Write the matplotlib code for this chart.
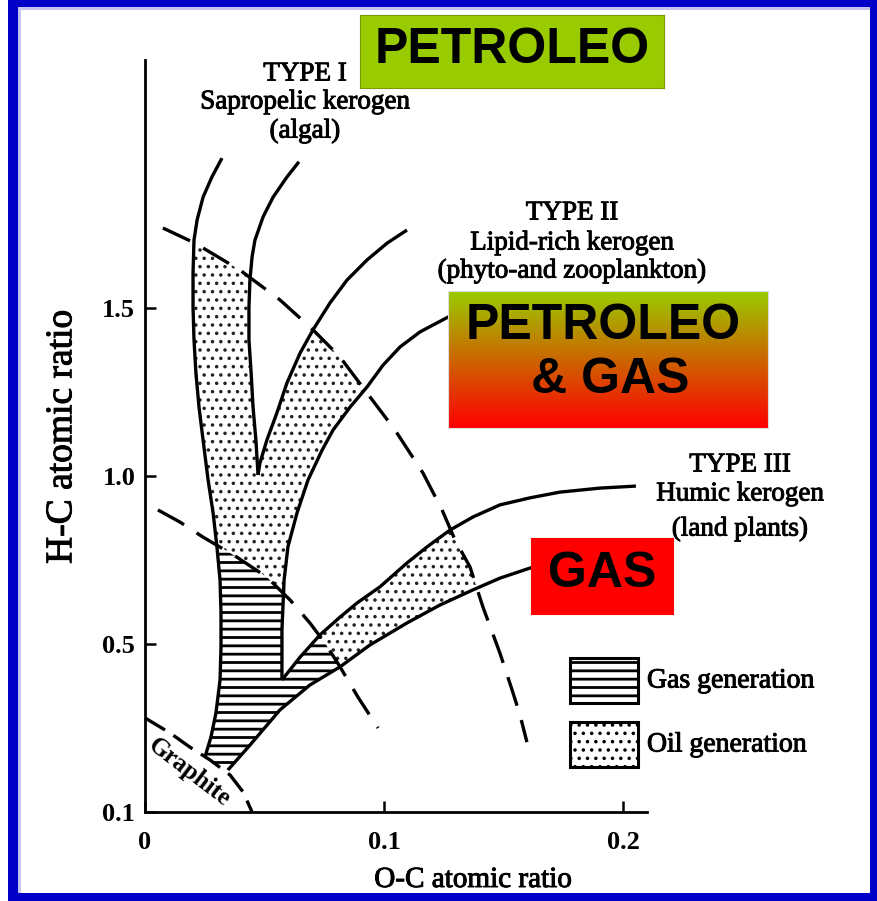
import numpy as np
import matplotlib.pyplot as plt
import matplotlib.patheffects as pe
from matplotlib.patches import Polygon, Rectangle

W, H = 877, 901
plt.rcParams['font.family'] = 'Liberation Serif'

# kerogen evolution paths as (O/C, H/C)
type1_outer_oc = [0.0322, 0.0280, 0.0243, 0.0218, 0.0205, 0.0201, 0.0201, 0.0205, 0.0213, 0.0226, 0.0243,
                  0.0264, 0.0285, 0.0301, 0.0314, 0.0318, 0.0318, 0.0314, 0.0297, 0.0276, 0.0251]
type1_outer_hc = [1.946, 1.890, 1.830, 1.762, 1.702, 1.604, 1.503, 1.405, 1.307, 1.205, 1.107,
                  0.988, 0.890, 0.789, 0.690, 0.592, 0.491, 0.393, 0.295, 0.223, 0.164]
type1_inner_oc = [0.0644, 0.0594, 0.0536, 0.0494, 0.0460, 0.0448, 0.0439, 0.0435, 0.0435, 0.0444, 0.0452, 0.0464, 0.0473]
type1_inner_hc = [1.935, 1.890, 1.830, 1.771, 1.702, 1.652, 1.583, 1.503, 1.405, 1.307, 1.205, 1.107, 1.003]
type2_upper_oc = [0.0473, 0.0481, 0.0510, 0.0552, 0.0594, 0.0649, 0.0703, 0.0774, 0.0845, 0.0929, 0.1013, 0.1096]
type2_upper_hc = [1.003, 1.039, 1.107, 1.188, 1.277, 1.366, 1.435, 1.515, 1.583, 1.643, 1.693, 1.732]
type2_lower_oc = [0.1276, 0.1151, 0.1067, 0.0996, 0.0929, 0.0858, 0.0787, 0.0741, 0.0682, 0.0636, 0.0598, 0.0582, 0.0573, 0.0573]
type2_lower_hc = [1.476, 1.429, 1.384, 1.330, 1.265, 1.205, 1.137, 1.077, 0.988, 0.890, 0.789, 0.690, 0.542, 0.393]
type3_upper_oc = [0.0573, 0.0649, 0.0732, 0.0816, 0.0887, 0.0983, 0.1096, 0.1180, 0.1276, 0.1372, 0.1485, 0.1611, 0.1736, 0.1904, 0.2054]
type3_upper_hc = [0.393, 0.461, 0.527, 0.580, 0.622, 0.670, 0.741, 0.789, 0.839, 0.878, 0.914, 0.935, 0.952, 0.964, 0.970]
type3_lower_oc = [0.0347, 0.0439, 0.0565, 0.0690, 0.0816, 0.0941, 0.1096, 0.1234, 0.1372, 0.1485, 0.1611, 0.1736]
type3_lower_hc = [0.125, 0.199, 0.304, 0.378, 0.432, 0.497, 0.5625, 0.616, 0.661, 0.696, 0.726, 0.753]

# maturity boundaries (dashed)
oil_start_oc = [0.0075, 0.0209, 0.0397, 0.0565, 0.0703, 0.0816, 0.0929, 0.1046, 0.1163, 0.1243, 0.1297, 0.1360, 0.1414, 0.1485, 0.1536, 0.1569, 0.1598]
oil_start_hc = [1.738, 1.693, 1.613, 1.524, 1.435, 1.354, 1.247, 1.137, 1.009, 0.899, 0.810, 0.729, 0.610, 0.473, 0.363, 0.289, 0.208]
gas_start_oc = [0.0054, 0.0146, 0.0243, 0.0377, 0.0510, 0.0607, 0.0690, 0.0753, 0.0816, 0.0891, 0.0975]
gas_start_hc = [0.899, 0.863, 0.818, 0.762, 0.699, 0.631, 0.5625, 0.503, 0.432, 0.342, 0.250]
graphite_oc = [0.0, 0.0105, 0.0188, 0.0272, 0.0356, 0.0410, 0.0448]
graphite_hc = [0.280, 0.235, 0.193, 0.155, 0.110, 0.060, 0.0]

xticks = [0, 0.1, 0.2]
xtick_labels = ['0', '0.1', '0.2']
yticks = [0, 0.5, 1.0, 1.5]
ytick_labels = ['0.1', '0.5', '1.0', '1.5']

heavy = [pe.withStroke(linewidth=0.7, foreground='black')]


def fpos(px, py):
    return px / W, 1 - py / H


fig = plt.figure(figsize=(W / 100, H / 100), dpi=100)
fig.patch.set_facecolor('white')

# blue frame of the slide
blue = '#0000c8'
for x0, y0, w, h in [(8, 0, 869, 7), (8, 0, 10, 901), (870, 0, 7, 901), (8, 893, 869, 8)]:
    fig.add_artist(Rectangle(fpos(x0, y0 + h), w / W, h / H, transform=fig.transFigure,
                             facecolor=blue, edgecolor='none', zorder=10))
for x0, y0, w, h in [(18, 7, 852, 3), (18, 7, 3, 886)]:
    fig.add_artist(Rectangle(fpos(x0, y0 + h), w / W, h / H, transform=fig.transFigure,
                             facecolor='#c4c4ee', edgecolor='none', zorder=10))

ax = fig.add_axes([145 / W, 1 - 812 / H, 502 / W, 752 / H])
ax.set_xlim(0, 502 / 2390)
ax.set_ylim(0, 752 / 336)
for s in ['top', 'right']:
    ax.spines[s].set_visible(False)
for s in ['left', 'bottom']:
    ax.spines[s].set_linewidth(2.0)
ax.set_xticks(xticks, xtick_labels)
ax.set_yticks(yticks, ytick_labels)
ax.tick_params(direction='in', length=8, width=1.8)
ax.tick_params(axis='x', pad=14, labelsize=19)
ax.tick_params(axis='y', pad=7, labelsize=19)
for lab in ax.get_xticklabels() + ax.get_yticklabels():
    lab.set_fontweight('bold')

# whole kerogen band as one outline
band_oc = (type1_outer_oc + type3_lower_oc + type3_upper_oc[::-1] + type2_lower_oc[::-1]
           + type2_upper_oc[::-1] + type1_inner_oc[::-1])
band_hc = (type1_outer_hc + type3_lower_hc + type3_upper_hc[::-1] + type2_lower_hc[::-1]
           + type2_upper_hc[::-1] + type1_inner_hc[::-1])
band = np.column_stack([band_oc, band_hc])

oil_zone = np.column_stack([oil_start_oc + gas_start_oc[::-1], oil_start_hc + gas_start_hc[::-1]])
gas_zone = np.column_stack([gas_start_oc + [gas_start_oc[-1], -0.01, -0.01],
                            gas_start_hc + [-0.1, -0.1, gas_start_hc[0]]])

with plt.rc_context({'hatch.linewidth': 1.3}):
    oil_fill = Polygon(band, closed=True, facecolor='white', edgecolor='#222222', lw=0, hatch='..', zorder=1)
with plt.rc_context({'hatch.linewidth': 2.0}):
    gas_fill = Polygon(band, closed=True, facecolor='white', edgecolor='black', lw=0, hatch='--', zorder=1)
ax.add_patch(oil_fill)
ax.add_patch(gas_fill)
oil_fill.set_clip_path(Polygon(oil_zone, closed=True, transform=ax.transData))
gas_fill.set_clip_path(Polygon(gas_zone, closed=True, transform=ax.transData))

solid = dict(color='black', lw=2.4, solid_capstyle='butt', solid_joinstyle='round', clip_on=False, zorder=3)
ax.plot(type1_outer_oc, type1_outer_hc, **solid)
ax.plot(type1_inner_oc, type1_inner_hc, **solid)
ax.plot(type2_upper_oc, type2_upper_hc, **solid)
ax.plot(type2_lower_oc, type2_lower_hc, **solid)
ax.plot(type3_upper_oc, type3_upper_hc, **solid)
ax.plot(type3_lower_oc, type3_lower_hc, **solid)

dashed = dict(color='black', lw=2.4, dashes=(9, 4.5), dash_capstyle='butt', clip_on=False, zorder=3)
ax.plot(oil_start_oc, oil_start_hc, **dashed)
ax.plot(gas_start_oc, gas_start_hc, **dashed)
ax.plot(graphite_oc, graphite_hc, **dict(dashed, dashes=(7, 3)))

ax.text(0.0184, 0.117, 'Graphite', rotation=-37.5, rotation_mode='anchor', ha='center', va='center',
        fontsize=18, fontweight='bold', zorder=4)

# axis titles
fig.text(*fpos(473, 880), 'O-C atomic ratio', ha='center', va='center', fontsize=21, path_effects=heavy)
fig.text(*fpos(62, 437), 'H-C atomic ratio', ha='center', va='center', rotation=90, fontsize=27,
         path_effects=heavy)

# kerogen type labels
type_labels = [
    (305, [(74, 'TYPE I'), (102, 'Sapropelic kerogen'), (131, '(algal)')]),
    (572, [(213, 'TYPE II'), (243, 'Lipid-rich kerogen'), (271, '(phyto-and zooplankton)')]),
    (740, [(465, 'TYPE III'), (494, 'Humic kerogen'), (529, '(land plants)')]),
]
for cx, lines in type_labels:
    for cy, s in lines:
        fig.text(*fpos(cx, cy), s, ha='center', va='center', fontsize=19.5, path_effects=heavy)

# legend
for top, hatch, hlw, label in [(658, '--', 2.0, 'Gas generation'), (722, '..', 1.3, 'Oil generation')]:
    with plt.rc_context({'hatch.linewidth': hlw}):
        box = Rectangle(fpos(570, top + 45), 68 / W, 45 / H, transform=fig.transFigure,
                        facecolor='white', edgecolor='black', lw=2.2, hatch=hatch)
    fig.add_artist(box)
    fig.text(*fpos(647, top + 23), label, ha='left', va='center', fontsize=20, path_effects=heavy)


def color_box(x0, y0, x1, y1, top_color, bottom_color, edge, lines):
    bax = fig.add_axes([x0 / W, 1 - y1 / H, (x1 - x0) / W, (y1 - y0) / H])
    c0 = np.array(plt.matplotlib.colors.to_rgb(top_color))
    c1 = np.array(plt.matplotlib.colors.to_rgb(bottom_color))
    t = np.linspace(0, 1, 200)[:, None]
    grad = (1 - t) * c0 + t * c1
    bax.imshow(grad[:, None, :], aspect='auto', extent=[0, 1, 0, 1], interpolation='bilinear')
    bax.set_xlim(0, 1)
    bax.set_ylim(0, 1)
    bax.set_xticks([])
    bax.set_yticks([])
    for sp in bax.spines.values():
        sp.set_color(edge)
        sp.set_linewidth(0.8)
    for (px, py, s) in lines:
        bax.text((px - x0) / (x1 - x0), 1 - (py - y0) / (y1 - y0), s, ha='center', va='center',
                 fontsize=36, fontweight='bold', family='Liberation Sans', color='black')


color_box(360, 15, 664, 88, '#99cc00', '#99cc00', '#7a9a00', [(512, 50, 'PETROLEO')])
color_box(448, 291, 768, 428, '#99cc00', '#ff0000', '#dddddd', [(603, 326, 'PETROLEO'), (610, 380, '& GAS')])
color_box(531, 538, 673, 614, '#ff0000', '#ff0000', '#ff0000', [(602, 574, 'GAS')])

fig.savefig('out.png', dpi=100)
